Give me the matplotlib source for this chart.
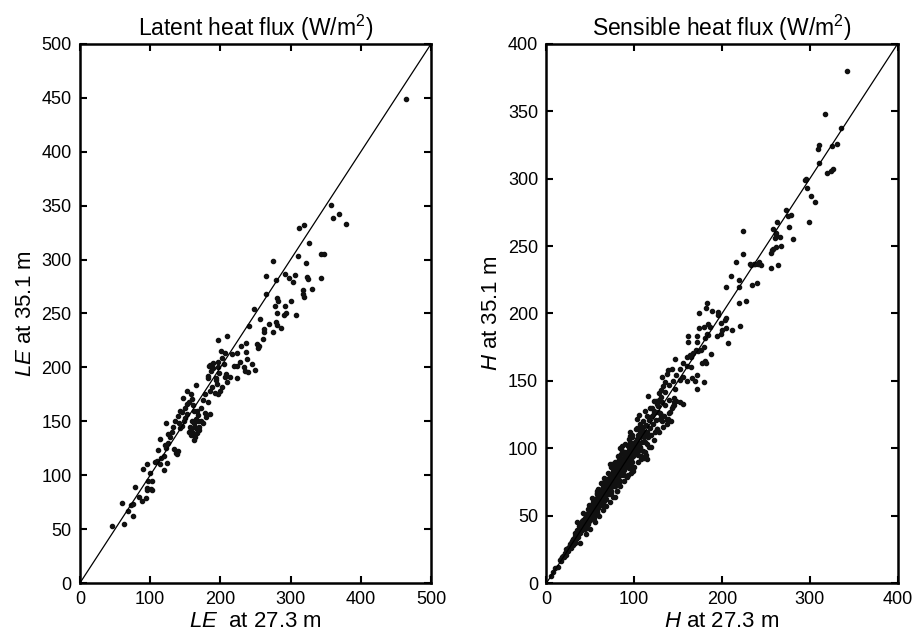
import numpy as np
import matplotlib.pyplot as plt

plt.rcParams['font.family'] = ['Liberation Sans', 'DejaVu Sans']
plt.rcParams['mathtext.fontset'] = 'custom'
plt.rcParams['mathtext.rm'] = 'Liberation Sans'
plt.rcParams['mathtext.it'] = 'Liberation Sans:italic'

# latent heat flux: (LE at 27.3 m, LE at 35.1 m)
le_pts = [
    (45, 53), (63, 55), (60, 74), (69, 67), (76, 62), (73, 72), (75, 73), (79, 89), (84, 80), (89, 76),
    (94, 79), (95, 88), (96, 86), (97, 95), (101, 87), (103, 86), (103, 95), (90, 106), (95, 110), (100, 102),
    (107, 112), (110, 113), (114, 110), (119, 105), (116, 116), (111, 123), (124, 111), (119, 118), (122, 125), (114, 134),
    (121, 128), (125, 130), (128, 135), (134, 124), (138, 120), (140, 122), (137, 121), (126, 138), (131, 140), (123, 148),
    (141, 148), (143, 144), (145, 146), (150, 153), (153, 157), (145, 159), (152, 166), (158, 137), (160, 140), (162, 148),
    (164, 135), (166, 143), (163, 133), (157, 145), (168, 150), (170, 145), (147, 172), (152, 178), (165, 184), (161, 165),
    (167, 160), (172, 162), (178, 158), (185, 157), (180, 154), (182, 192), (186, 197), (184, 201), (190, 199), (197, 200),
    (197, 225), (210, 229), (202, 209), (207, 213), (195, 185), (199, 178), (197, 175), (203, 182), (209, 186), (208, 194),
    (155, 140), (158, 143), (161, 138), (164, 145), (167, 139), (170, 142), (159, 150), (165, 152), (172, 150), (175, 148),
    (168, 156), (162, 160), (133, 145), (136, 150), (140, 155), (143, 160), (148, 150), (150, 162), (155, 168), (158, 175),
    (160, 171), (175, 170), (178, 175), (182, 168), (185, 178), (188, 182), (192, 176), (194, 188), (198, 195),
    (357, 351), (361, 339), (369, 342), (379, 333), (312, 329), (319, 332), (326, 315), (344, 305), (348, 305), (311, 303),
    (322, 297), (275, 299), (265, 285), (279, 281), (292, 287), (298, 283), (306, 286), (303, 279), (323, 284), (325, 282),
    (343, 283), (330, 273), (318, 272), (319, 265), (317, 268), (265, 268), (280, 264), (282, 262), (300, 262), (278, 257),
    (292, 257), (281, 250), (290, 249), (294, 250), (308, 249), (248, 254), (256, 245), (269, 240), (279, 242), (281, 239),
    (241, 238), (262, 236), (262, 233), (275, 233), (287, 237), (260, 226), (252, 222), (254, 218), (255, 220), (230, 220),
    (236, 223), (201, 215), (217, 212), (224, 213), (237, 214), (228, 205), (233, 200), (238, 208), (240, 196), (245, 203),
    (249, 198), (235, 197), (185, 202), (190, 204), (196, 205), (205, 203), (219, 201), (224, 201), (182, 190), (194, 190),
    (206, 191), (214, 191), (224, 190), (465, 449),
]

# sensible heat flux: (H at 27.3 m, H at 35.1 m)
h_pts = [
    (342, 380), (317, 348), (336, 338), (331, 326), (325, 324), (311, 325), (309, 322), (311, 312), (320, 304), (324, 306),
    (327, 307), (295, 299), (296, 300), (297, 293), (301, 287), (306, 283), (273, 277), (275, 272), (279, 273), (263, 268),
    (258, 263), (276, 264), (299, 268), (260, 256), (261, 258), (262, 260), (266, 257), (281, 255), (224, 261), (224, 244),
    (256, 245), (257, 247), (258, 248), (262, 249), (267, 250), (233, 236), (238, 237), (242, 238), (245, 236), (256, 234),
    (264, 236), (216, 238), (232, 237), (236, 237), (241, 237), (210, 228), (204, 220), (219, 220), (219, 225), (234, 221),
    (240, 223), (219, 208), (227, 209), (182, 204), (183, 208), (174, 200), (189, 202), (195, 199), (196, 201), (199, 193),
    (205, 197), (203, 195), (220, 191), (200, 188), (205, 189), (211, 188), (174, 189), (179, 190), (184, 192), (186, 190),
    (194, 183), (199, 185), (207, 178), (181, 182), (183, 185), (184, 184), (172, 179), (172, 183), (161, 179), (161, 183),
    (176, 173), (179, 175), (187, 170), (167, 171), (170, 173), (173, 172), (160, 168), (163, 169), (165, 168), (177, 163),
    (181, 165), (182, 163), (146, 166), (152, 159), (156, 163), (160, 161), (165, 160), (138, 158), (143, 159), (132, 153),
    (137, 155), (144, 150), (148, 154), (152, 151), (156, 153), (160, 150), (166, 152), (169, 150), (171, 154), (179, 149),
    (171, 144), (133, 146), (135, 149), (140, 147), (146, 144), (128, 141), (131, 143), (135, 142), (116, 139), (123, 135),
    (126, 133), (128, 136), (132, 134), (140, 136), (145, 137), (148, 135), (152, 134), (156, 133), (144, 131), (145, 132),
    (112, 128), (118, 130), (122, 128), (127, 127), (130, 125), (134, 124), (140, 126), (138, 122), (129, 122), (132, 120),
    (137, 121), (142, 120), (107, 118), (110, 113), (113, 110), (116, 108), (112, 105), (115, 103), (119, 110), (124, 112),
    (107, 100), (110, 98), (113, 95), (108, 94), (111, 93), (115, 92), (126, 114), (141, 127), (143, 130), (145, 134),
    (137, 118), (139, 121),
    (5, 5), (7, 8), (10, 11), (13, 12), (15, 17), (16, 16), (17, 18), (18, 19), (19, 20), (20, 19),
    (21, 22), (22, 21), (22, 25), (23, 24), (24, 26), (25, 24), (26, 27), (27, 29), (28, 26), (28, 30),
    (29, 31), (30, 28), (30, 33), (31, 32), (32, 30), (33, 35), (33, 37), (34, 33), (35, 36), (35, 39),
    (36, 34), (36, 38), (37, 40), (37, 42), (38, 37), (38, 41), (39, 44), (40, 39), (40, 42), (40, 46),
    (41, 40), (41, 44), (42, 43), (42, 47), (43, 41), (43, 45), (44, 48), (44, 44), (45, 42), (45, 47),
    (45, 50), (46, 46), (46, 49), (47, 44), (47, 52), (48, 48), (48, 51), (49, 46), (49, 54), (50, 50),
    (50, 53), (50, 47), (51, 49), (51, 55), (52, 52), (52, 57), (53, 50), (53, 54), (53, 60), (54, 56),
    (54, 53), (55, 58), (55, 51), (55, 62), (56, 55), (56, 60), (57, 57), (57, 63), (57, 53), (58, 59),
    (58, 62), (59, 56), (59, 65), (60, 61), (60, 58), (60, 64), (61, 60), (61, 67), (62, 63), (62, 58),
    (62, 69), (63, 65), (63, 61), (64, 67), (64, 71), (64, 62), (65, 64), (65, 69), (66, 66), (66, 72),
    (66, 61), (67, 68), (67, 64), (67, 74), (68, 70), (68, 66), (69, 72), (69, 67), (69, 76), (70, 71),
    (70, 68), (70, 74), (71, 73), (71, 66), (71, 78), (72, 75), (72, 70), (73, 72), (73, 78), (73, 68),
    (74, 76), (74, 73), (74, 81), (75, 74), (75, 79), (76, 72), (76, 77), (76, 83), (77, 79), (77, 75),
    (78, 81), (78, 76), (78, 86), (79, 78), (79, 83), (80, 80), (80, 85), (80, 75), (81, 82), (81, 88),
    (82, 79), (82, 84), (83, 86), (83, 81), (83, 90), (84, 83), (84, 88), (85, 85), (85, 80), (85, 92),
    (86, 87), (86, 83), (87, 90), (87, 86), (88, 84), (88, 92), (89, 88), (89, 95), (90, 91), (90, 86),
    (90, 97), (91, 89), (91, 94), (92, 92), (92, 87), (93, 96), (93, 90), (94, 93), (94, 99), (95, 95),
    (95, 89), (96, 98), (96, 92), (97, 101), (97, 95), (98, 97), (98, 103), (99, 94), (99, 100), (100, 102),
    (100, 97), (101, 105), (101, 99), (102, 103), (102, 96), (103, 107), (103, 101), (104, 98), (104, 110), (105, 104),
    (106, 108), (106, 101), (108, 111), (109, 105), (110, 116), (111, 108), (113, 117), (114, 112), (117, 121), (118, 115),
    (120, 124), (121, 118), (123, 126), (125, 121), (127, 131), (129, 126),
    (57, 67), (59, 70), (78, 64), (80, 68), (93, 80), (72, 88), (84, 100), (86, 102), (95, 109), (95, 112),
    (103, 122), (105, 125), (97, 86), (99, 83), (126, 114), (119, 101),
    (35, 45), (38, 30), (42, 52), (45, 36), (48, 58), (50, 40), (52, 63), (55, 45), (58, 68), (60, 50),
    (62, 74), (64, 54), (66, 78), (68, 57), (70, 82), (72, 60), (74, 86), (76, 64), (78, 90), (80, 68),
    (82, 94), (84, 72), (86, 98), (88, 76), (90, 103), (92, 79), (94, 107), (96, 82), (98, 110), (100, 86),
    (102, 114), (104, 90), (106, 116), (108, 92), (110, 120), (112, 97), (115, 124), (117, 101), (120, 130), (122, 106),
    (125, 135), (128, 112), (130, 138), (133, 116), (135, 132), (65, 75), (75, 88), (85, 96), (95, 105), (58, 52),
    (68, 62), (78, 72), (88, 80), (98, 90), (44, 40), (54, 48), (64, 58), (74, 67), (84, 76), (94, 85),
    (104, 95), (47, 55), (57, 66), (67, 77), (77, 87), (87, 97), (97, 108), (107, 112), (63, 70), (73, 80),
    (83, 92), (93, 102), (103, 115),
]

le_x, le_y = np.array(le_pts).T
h_x, h_y = np.array(h_pts).T

fig = plt.figure(figsize=(9.18, 6.43), dpi=100)
ax1 = fig.add_axes([0.0871, 0.0933, 0.3824, 0.8383])
ax2 = fig.add_axes([0.5953, 0.0933, 0.3824, 0.8383])

def style(ax, lim, step):
    ax.plot([0, lim], [0, lim], color='black', lw=0.9)
    ax.set_xlim(0, lim)
    ax.set_ylim(0, lim)
    ax.set_xticks(np.arange(0, lim + 1, 100))
    ax.set_yticks(np.arange(0, lim + 1, step))
    ax.tick_params(direction='in', top=True, right=True, length=5, width=1.5,
                   labelsize=13, pad=6, colors='black')
    for s in ax.spines.values():
        s.set_linewidth(1.8)

ax1.plot(le_x, le_y, '.', color='#111111', ms=6)
style(ax1, 500, 50)
ax1.set_title('Latent heat flux (W/m$^2$)', fontsize=16.5, pad=6)
ax1.set_xlabel('$\\it{LE}$  at 27.3 m', fontsize=16, labelpad=2)
ax1.set_ylabel('$\\it{LE}$ at 35.1 m', fontsize=16)

ax2.plot(h_x, h_y, '.', color='#111111', ms=6)
style(ax2, 400, 50)
ax2.set_title('Sensible heat flux (W/m$^2$)', fontsize=16.5, pad=6)
ax2.set_xlabel('$\\it{H}$ at 27.3 m', fontsize=16, labelpad=2)
ax2.set_ylabel('$\\it{H}$ at 35.1 m', fontsize=16)

fig.savefig('out.png', dpi=100)
